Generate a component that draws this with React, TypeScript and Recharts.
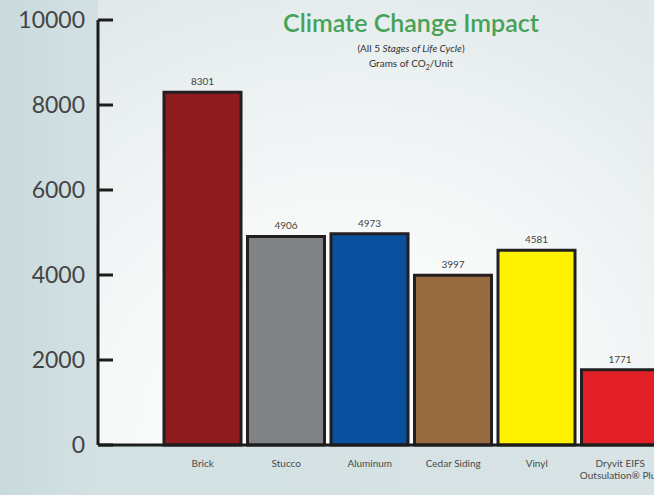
import React from "react";
import { BarChart, Bar, XAxis, YAxis, Cell, LabelList } from "recharts";

// Grams of CO2 per unit, all 5 stages of life cycle
const materials = ["Brick", "Stucco", "Aluminum", "Cedar Siding", "Vinyl", "Dryvit EIFS\nOutsulation® Plus"];
const grams = [8301, 4906, 4973, 3997, 4581, 1771];
const barColors = ["#8e1b1e", "#808285", "#0b4f9f", "#976b3f", "#fff200", "#e21f26"];
const yTicks = [0, 2000, 4000, 6000, 8000, 10000];

const data = materials.map((name, i) => ({ name, value: grams[i] }));

const FONT = "Lato, 'Open Sans', sans-serif";

function CategoryTick(props: any) {
  const { x, y, payload } = props;
  const lines = String(payload.value).split("\n");
  return (
    <text x={x} y={y} textAnchor="middle" fill="#4a4a4a" fontSize={10} fontFamily={FONT}>
      {lines.map((l, i) => (
        <tspan key={i} x={x} dy={i === 0 ? 14 : 12}>
          {l}
        </tspan>
      ))}
    </text>
  );
}

export default function App() {
  return (
    <div
      style={{
        position: "fixed",
        left: 0,
        top: 0,
        width: 654,
        height: 495,
        overflow: "hidden",
        background: "linear-gradient(to right, #c9dadd 0px, #d3e1e3 95px, #d8e3e5 100%)",
        fontFamily: FONT,
      }}
    >
      <div
        style={{
          position: "absolute",
          left: 98,
          top: 0,
          width: 556,
          height: 445,
          background:
            "radial-gradient(ellipse 95% 115% at 45% 100%, #ffffff 0%, #f7f9f9 45%, #e0e8e9 100%)",
        }}
      />
      <div style={{ position: "absolute", left: 0, top: 0 }}>
        <BarChart width={662} height={495} data={data} margin={{ top: 20, right: 0, left: 0, bottom: 0 }}>
          <YAxis
            type="number"
            domain={[0, 10000]}
            ticks={yTicks}
            width={98}
            interval={0}
            axisLine={{ stroke: "#1c1c1c", strokeWidth: 3 }}
            tickLine={{ stroke: "#1c1c1c", strokeWidth: 3 }}
            tickSize={-15}
            tickMargin={28}
            tick={{ fill: "#444", fontSize: 23, fontFamily: FONT }}
          />
          <XAxis
            dataKey="name"
            height={50}
            padding={{ left: 63, right: 0 }}
            interval={0}
            axisLine={{ stroke: "#1c1c1c", strokeWidth: 3 }}
            tickLine={false}
            tick={<CategoryTick />}
          />
          <Bar dataKey="value" barSize={77} stroke="#231f20" strokeWidth={3} isAnimationActive={false}>
            {data.map((d, i) => (
              <Cell key={d.name} fill={barColors[i]} />
            ))}
            <LabelList dataKey="value" position="top" offset={7} fontSize={10} fill="#444" fontFamily={FONT} />
          </Bar>
        </BarChart>
      </div>
      <div
        style={{
          position: "absolute",
          left: 211,
          width: 400,
          top: 8,
          textAlign: "center",
          color: "#46a257",
          fontSize: 25,
          fontWeight: 600,
          lineHeight: "28px",
        }}
      >
        Climate Change Impact
      </div>
      <div
        style={{
          position: "absolute",
          left: 211,
          width: 400,
          top: 41,
          textAlign: "center",
          color: "#333",
          fontSize: 10,
          lineHeight: "14px",
        }}
      >
        (All 5 <i>Stages of Life Cycle</i>)
      </div>
      <div
        style={{
          position: "absolute",
          left: 211,
          width: 400,
          top: 56,
          textAlign: "center",
          color: "#333",
          fontSize: 10,
          lineHeight: "14px",
        }}
      >
        Grams of CO<sub style={{ fontSize: 7 }}>2</sub>/Unit
      </div>
    </div>
  );
}
